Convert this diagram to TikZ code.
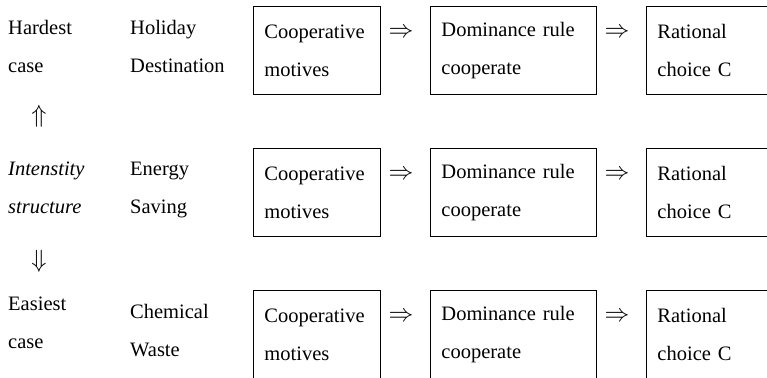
\documentclass[tikz,border=0pt]{standalone}
\usepackage{fontspec}
\setmainfont{Liberation Serif}
\begin{document}
\begin{tikzpicture}[x=1pt,y=1pt,
  every node/.style={font=\fontsize{20.5}{38}\selectfont, inner sep=0pt},
  lbl/.style={anchor=north west, align=left},
  box/.style={draw, line width=0.9pt, anchor=north west, align=left,
    minimum height=88pt, inner xsep=11pt, inner ysep=0pt},
  narrow/.style={box, text width=105pt},
  wide/.style={box, text width=144pt},
  implies/.style={anchor=center, font=\fontsize{24}{28}\selectfont}
]
\useasboundingbox (0,0) rectangle (767,-377);
\clip (0,0) rectangle (767,-377);

% left column
\node[lbl] (hard) at (8,-20) {Hardest\\case};
\node[implies] (up) at (39,-116) {$\Uparrow$};
\node[lbl, font=\fontsize{20.5}{38}\selectfont\itshape] (inten) at (8,-162) {Intenstity\\structure};
\node[implies] (down) at (39,-261) {$\Downarrow$};
\node[lbl] (easy) at (8,-297) {Easiest\\case};

% second column
\node[lbl] (hol) at (130,-20) {Holiday\\Destination};
\node[lbl] (ene) at (130,-162) {Energy\\Saving};
\node[lbl] (che) at (130,-304) {Chemical\\Waste};

% row 1
\node[narrow] (a1) at (253,-6) {Cooperative\\motives};
\node[implies] (i11) at (401,-33) {$\Rightarrow$};
\node[wide] (b1) at (430,-6) {Dominance rule\\cooperate};
\node[implies] (i12) at (617,-33) {$\Rightarrow$};
\node[narrow] (c1) at (646,-6) {Rational\\choice C};

% row 2
\node[narrow] (a2) at (253,-148) {Cooperative\\motives};
\node[implies] (i21) at (401,-175) {$\Rightarrow$};
\node[wide] (b2) at (430,-148) {Dominance rule\\cooperate};
\node[implies] (i22) at (617,-175) {$\Rightarrow$};
\node[narrow] (c2) at (646,-148) {Rational\\choice C};

% row 3
\node[narrow] (a3) at (253,-290) {Cooperative\\motives};
\node[implies] (i31) at (401,-317) {$\Rightarrow$};
\node[wide] (b3) at (430,-290) {Dominance rule\\cooperate};
\node[implies] (i32) at (617,-317) {$\Rightarrow$};
\node[narrow] (c3) at (646,-290) {Rational\\choice C};
\end{tikzpicture}
\end{document}
